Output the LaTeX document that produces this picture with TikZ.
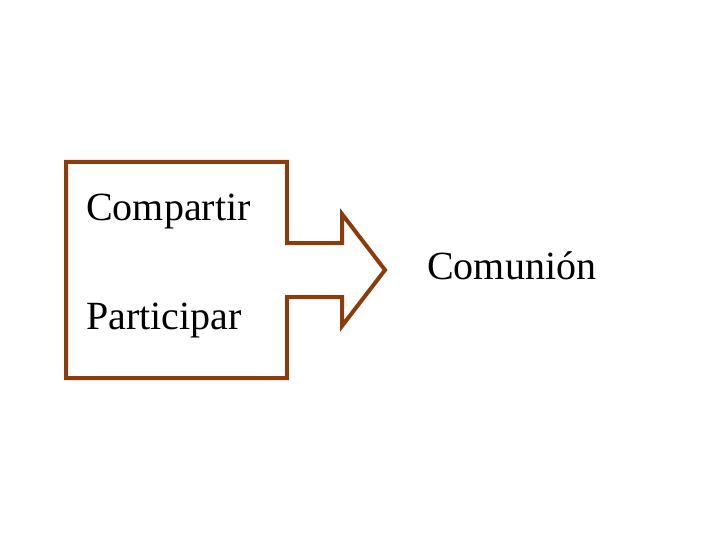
\documentclass[tikz,border=0pt]{standalone}
\usepackage{fontspec}
\setmainfont{Liberation Serif}
\definecolor{brn}{RGB}{140,60,12}
\begin{document}
\begin{tikzpicture}[x=1pt,y=-1pt,lbl/.style={anchor=west,inner sep=0pt,font=\fontsize{40}{44}\selectfont}]
\useasboundingbox (0,0) rectangle (720,540);
\draw[brn,line width=4pt,line join=miter] (66,162) -- (287,162) -- (287,243) -- (342,243) -- (342,214) -- (385,270) -- (342,326) -- (342,297) -- (287,297) -- (287,378) -- (66,378) -- cycle;
\node[lbl] (a) at (86,212) {Compartir};
\node[lbl] (b) at (86,321) {Participar};
\node[lbl] (c) at (427,266) {Comunión};
\end{tikzpicture}
\end{document}
